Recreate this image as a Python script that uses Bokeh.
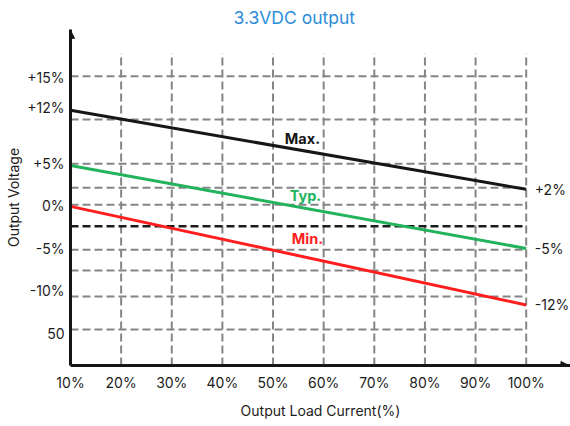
from bokeh.plotting import figure
from bokeh.models import (FixedTicker, CustomJSTickFormatter, Arrow, NormalHead,
                          Range1d, ColumnDataSource)
from bokeh.core.properties import value
from bokeh.embed import file_html
from bokeh.resources import INLINE

# ---------------- data ----------------
load_pct = [10, 100]
max_v = [11.2, 1.9]
typ_v = [4.7, -5.05]
min_v = [-0.1, -11.7]

x_ticks = [10, 20, 30, 40, 50, 60, 70, 80, 90, 100]
x_tick_labels = ["10%", "20%", "30%", "40%", "50%", "60%", "70%", "80%", "90%", "100%"]

y_ticks = [15.0, 11.5, 4.95, 0.0, -5.05, -10.0, -15.0]
y_tick_labels = ["+15%", "+12%", "+5%", "0%", "-5%", "-10%", "50"]

hgrid_levels = [15.2, 10.1, 4.9, 2.1, 0.1, -5.2, -7.65, -10.7, -14.6]
ref_level = [-2.45]
vgrid_loads = [20, 30, 40, 50, 60, 70, 80, 90, 100]

series_names = ["Max.", "Typ.", "Min."]
name_x = [55.8, 56.4, 56.8]
name_y = [7.9, 1.2, -3.9]
end_labels = ["+2%", "-5%", "-12%"]

# ---------------- style ----------------
C_MAX = "#161616"
C_TYP = "#22b35c"
C_MIN = "#ff1e1e"
C_GRID = "#858585"
C_AXIS = "#161616"
FONT = "Inter"

X_MIN, X_MAX = 10, 108.75
Y_MIN, Y_MAX = -18.82, 20.7
VGRID_TOP = 17.9

p = figure(frame_width=500, frame_height=336, output_backend="svg", toolbar_location=None,
           x_range=Range1d(X_MIN, X_MAX), y_range=Range1d(Y_MIN, Y_MAX),
           min_border_left=70, min_border_right=0, min_border_top=29,
           min_border_bottom=61)
p.outline_line_color = None
p.xgrid.visible = False
p.ygrid.visible = False

p.title.text = "3.3VDC output"
p.title.text_font = FONT
p.title.text_font_size = "17.5px"
p.title.text_font_style = "normal"
p.title.text_color = "#2d8cd6"
p.title.align = "left"
p.title.offset = 163
p.title.standoff = 3

# grid
p.segment(x0=[X_MIN] * len(hgrid_levels), x1=[vgrid_loads[-1]] * len(hgrid_levels),
          y0=hgrid_levels, y1=hgrid_levels, line_color=C_GRID, line_width=2,
          line_dash="8 4")
p.segment(x0=vgrid_loads, x1=vgrid_loads, y0=[Y_MIN] * len(vgrid_loads),
          y1=[VGRID_TOP] * len(vgrid_loads), line_color=C_GRID, line_width=2,
          line_dash="8 4")
p.segment(x0=[X_MIN], x1=[vgrid_loads[-1]], y0=ref_level, y1=ref_level,
          line_color="#1c1c1c", line_width=2.5, line_dash="8 4")

# series
p.line(load_pct, max_v, line_color=C_MAX, line_width=3)
p.line(load_pct, typ_v, line_color=C_TYP, line_width=3)
p.line(load_pct, min_v, line_color=C_MIN, line_width=3)

name_src = ColumnDataSource(dict(x=name_x, y=name_y, t=series_names,
                                 c=[C_MAX, C_TYP, C_MIN]))
p.text(x="x", y="y", text="t", text_color="c", source=name_src,
       text_align="center", text_baseline="middle", text_font=value(FONT),
       text_font_size="14.5px", text_font_style="bold")

end_src = ColumnDataSource(dict(x=[load_pct[-1] + 1.7] * 3,
                                y=[max_v[-1], typ_v[-1], min_v[-1]],
                                t=end_labels))
p.text(x="x", y="y", text="t", source=end_src, text_color="#1c1c1c",
       text_align="left", text_baseline="middle", text_font=value(FONT),
       text_font_size="14px")

# axes
for ax in (p.xaxis[0], p.yaxis[0]):
    ax.axis_line_color = C_AXIS
    ax.axis_line_width = 3
    ax.major_tick_line_color = None
    ax.minor_tick_line_color = None
    ax.major_tick_out = 0
    ax.major_tick_in = 0
    ax.major_label_text_font = FONT
    ax.major_label_text_font_size = "14px"
    ax.major_label_text_color = "#1c1c1c"
    ax.axis_label_text_font = FONT
    ax.axis_label_text_font_size = "14px"
    ax.axis_label_text_font_style = "normal"
    ax.axis_label_text_color = "#1c1c1c"

p.xaxis[0].ticker = FixedTicker(ticks=x_ticks)
p.xaxis[0].formatter = CustomJSTickFormatter(args=dict(tv=x_ticks, tl=x_tick_labels), code="""
let b = 0;
for (let i = 0; i < tv.length; i++) { if (Math.abs(tv[i] - tick) < Math.abs(tv[b] - tick)) b = i; }
return tl[b];
""")
p.xaxis[0].major_label_standoff = 8
p.xaxis[0].axis_label = "Output Load Current(%)"
p.xaxis[0].axis_label_standoff = 8

p.yaxis[0].ticker = FixedTicker(ticks=y_ticks)
p.yaxis[0].formatter = CustomJSTickFormatter(args=dict(tv=y_ticks, tl=y_tick_labels), code="""
let b = 0;
for (let i = 0; i < tv.length; i++) { if (Math.abs(tv[i] - tick) < Math.abs(tv[b] - tick)) b = i; }
return tl[b];
""")
p.yaxis[0].major_label_standoff = 6
p.yaxis[0].axis_label = "Output Voltage"
p.yaxis[0].axis_label_standoff = 2

# axis arrows
p.add_layout(Arrow(end=NormalHead(size=8, fill_color=C_AXIS, line_color=C_AXIS),
                   x_start=X_MIN, y_start=Y_MIN, x_end=X_MIN, y_end=Y_MAX - 0.1,
                   line_color=C_AXIS, line_width=3))
p.add_layout(Arrow(end=NormalHead(size=8, fill_color=C_AXIS, line_color=C_AXIS),
                   x_start=X_MIN, y_start=Y_MIN, x_end=X_MAX - 0.3, y_end=Y_MIN,
                   line_color=C_AXIS, line_width=3))

open("out.html", "w").write(file_html(p, INLINE))
